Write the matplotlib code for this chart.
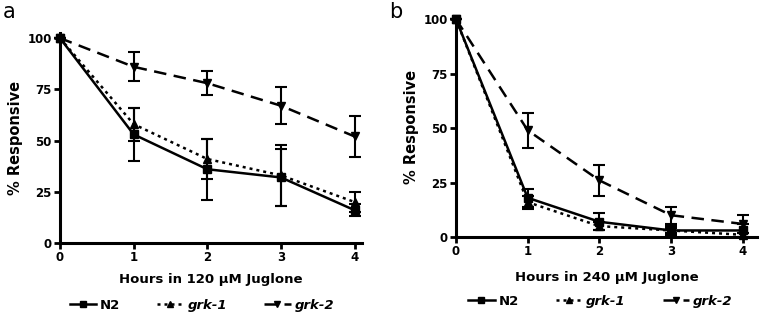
import numpy as np
import matplotlib.pyplot as plt
from matplotlib.lines import Line2D

plt.rcParams['font.family'] = ['DejaVu Sans']

hours = [0, 1, 2, 3, 4]

# panel a: 120 uM juglone
n2_a = [100, 53, 36, 32, 16]
n2_a_err = [0, 13, 15, 14, 3]
grk1_a = [100, 58, 41, 33, 20]
grk1_a_err = [0, 8, 10, 15, 5]
grk2_a = [100, 86, 78, 67, 52]
grk2_a_err = [0, 7, 6, 9, 10]

# panel b: 240 uM juglone
n2_b = [100, 18, 7, 3, 3]
n2_b_err = [0, 4, 4, 2, 3]
grk1_b = [100, 16, 5, 3, 1]
grk1_b_err = [0, 3, 2, 1, 1]
grk2_b = [100, 49, 26, 10, 6]
grk2_b_err = [0, 8, 7, 4, 4]

yticks = [0, 25, 50, 75, 100]
labels = ['N2', 'grk-1', 'grk-2']

fig = plt.figure(figsize=(7.62, 3.26), dpi=100)
ax_a = fig.add_axes([60 / 762, 83 / 326, 302 / 762, 210 / 326])
ax_b = fig.add_axes([456 / 762, 89 / 326, 301 / 762, 220 / 326])

styles = [
    dict(ls='-', marker='s', ms=6),
    dict(ls=(0, (1.2, 1.6)), marker='^', ms=6),
    dict(ls=(0, (5, 3)), marker='v', ms=6),
]


def draw(ax, series, xlabel, xmax, ymax, legx, lpad):
    for (y, err), st in zip(series, styles):
        ax.errorbar(hours, y, yerr=err, color='black', lw=1.8, capsize=4,
                    elinewidth=1.5, capthick=1.5, clip_on=False, **st)
    ax.set_xlim(0, xmax)
    ax.set_ylim(0, ymax)
    ax.set_xticks(hours)
    ax.set_yticks(yticks)
    for s in ['top', 'right']:
        ax.spines[s].set_visible(False)
    for s in ['left', 'bottom']:
        ax.spines[s].set_linewidth(2.2)
    ax.tick_params(width=2, length=4, labelsize=8.5, pad=2)
    for t in ax.get_xticklabels() + ax.get_yticklabels():
        t.set_fontweight('bold')
    ax.set_xlabel(xlabel, fontsize=9.5, fontweight='bold', labelpad=lpad)
    ax.set_ylabel('% Responsive', fontsize=10.5, fontweight='bold', labelpad=3)
    handles = [Line2D([], [], color='black', lw=1.8, **dict(st, ms=5)) for st in styles]
    leg = ax.legend(handles, labels, loc='upper center', bbox_to_anchor=(legx, -0.21),
                    ncol=3, frameon=False, handlelength=2.0, columnspacing=2.8,
                    handletextpad=0.3, prop=dict(weight='bold', size=9.5))
    for t in leg.get_texts()[1:]:
        t.set_fontstyle('italic')


draw(ax_a, [(n2_a, n2_a_err), (grk1_a, grk1_a_err), (grk2_a, grk2_a_err)],
     'Hours in 120 µM Juglone', 4.1, 102.5, 0.47, 6)
draw(ax_b, [(n2_b, n2_b_err), (grk1_b, grk1_b_err), (grk2_b, grk2_b_err)],
     'Hours in 240 µM Juglone', 4.2, 101, 0.48, 9)

fig.text(3 / 762, 1 - 18 / 326, 'a', fontsize=15)
fig.text(389 / 762, 1 - 18 / 326, 'b', fontsize=15)

fig.savefig('out.png', dpi=100)
